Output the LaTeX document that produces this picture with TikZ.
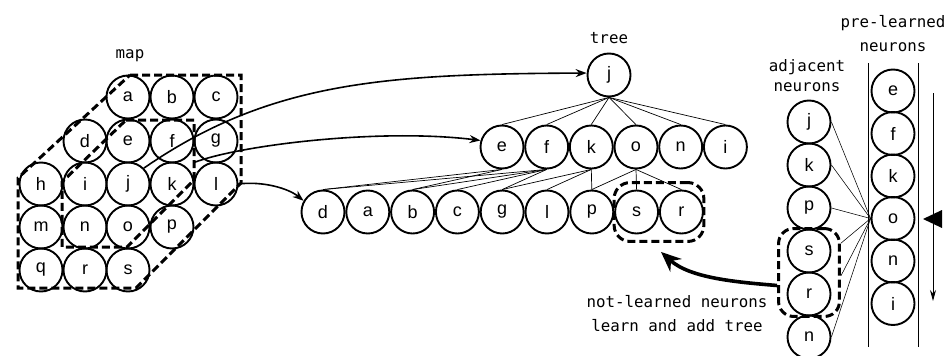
\documentclass[tikz,border=0pt]{standalone}
\usepackage{fontspec}
\setmainfont{Liberation Sans}
\newfontfamily\labelfont{DejaVu Sans Mono}
\usetikzlibrary{arrows.meta,fit,calc}

\begin{document}
\begin{tikzpicture}[x=1pt,y=-1pt,
  neuron/.style={circle,draw,line width=1.9pt,minimum size=43pt,inner sep=0pt,
                 font=\fontsize{18}{18}\selectfont},
  dashbox/.style={draw,line width=3pt,dash pattern=on 8pt off 4pt},
  tag/.style={font=\labelfont\fontsize{15.8}{#1}\selectfont,align=center,inner sep=0pt},
  tag/.default=24,
  treeline/.style={line width=0.7pt},
  adjline/.style={line width=0.55pt},
  maparrow/.style={line width=1.6pt,-{Stealth[length=11pt,width=8pt]}},
  bigarrow/.style={line width=3.6pt,-{Stealth[length=20pt,width=17pt]}},
  ]
\useasboundingbox (0,0) rectangle (946,356);

% ---------- the map of neurons ----------
\foreach \n/\x/\y in {a/128/97, b/172/97, c/216/97,
                      d/85/141, e/128/141, f/172/141, g/216/141,
                      h/41/184, i/85/184, j/128/184, k/172/184, l/216/184,
                      m/41/227, n/85/227, o/128/227, p/172/227,
                      q/41/270, r/85/270, s/128/270}
  \node[neuron] (m\n) at (\x,\y) {\n};

% neighbourhoods of j: two rings and one ring
\draw[dashbox] (130,75) -- (241,75) -- (241,183) -- (136,288) -- (18,288) -- (18,178) -- cycle;
\draw[dashbox] (126,120) -- (194,120) -- (194,180) -- (127,247) -- (62,247) -- (62,182) -- cycle;

\node[tag,anchor=base] (lmap) at (130,58) {map};

% ---------- the tree ----------
\node[tag,anchor=base] (ltree) at (609,43) {tree};
\node[neuron] (tj) at (609,75) {j};

\foreach \n/\x in {e/502, f/546.7, k/591.3, o/636, n/680.7, i/725.4}
  \node[neuron] (t2\n) at (\x,147) {\n};

\foreach \n/\x in {d/323, a/367.8, b/412.6, c/457.4, g/502.2, l/547, p/591.8, s/636.6, r/681.4}
  \node[neuron] (t3\n) at (\x,212) {\n};

\foreach \c in {e,f,k,o,n,i}
  \draw[treeline] (tj.south) -- (t2\c.north);

\foreach \p/\c in {e/d, f/d, e/b, f/b, f/c, f/g, k/g, k/l, k/p, o/p, o/s, o/r}
  \draw[treeline] (t2\p.south) -- (t3\c.north);

\node[dashbox,rounded corners=16pt,fit=(t3s)(t3r),inner xsep=0pt,inner ysep=7pt] (boxT) {};

% ---------- from the map into the tree ----------
\coordinate (corner) at ($(mf)!0.5!(ml)$);
\draw[maparrow] (mj.45) .. controls (270,81) and (386,74) .. (tj.175);
\draw[maparrow] (corner) .. controls (240,145) and (380,128) .. (t2e.163);
\draw[maparrow] (ml.east) .. controls (262,181) and (288,188) .. (t3d.150);

% ---------- pre-learned neurons ----------
\node[tag,anchor=north] (lpre) at (893,15) {pre-learned\\neurons};
\coordinate (railLt) at (868,63);
\coordinate (railLb) at (868,347);
\coordinate (railRt) at (918,63);
\coordinate (railRb) at (918,347);
\draw[line width=0.7pt] (railLt) -- (railLb);
\draw[line width=0.7pt] (railRt) -- (railRb);

\foreach \n/\y in {e/91, f/133.5, k/176, o/218.5, n/261, i/303.5}
  \node[neuron] (p\n) at (893,\y) {\n};

\coordinate (scanTop) at (933,93);
\coordinate (scanEnd) at (933,301);
\draw[line width=0.8pt,-{Stealth[length=11pt,width=6pt]}] (scanTop) -- (scanEnd);
\fill (942,210) -- (923,219) -- (942,228) -- cycle;

% ---------- adjacent neurons ----------
\node[tag=20,anchor=north] (ladj) at (807,59) {adjacent\\neurons};
\foreach \n/\y in {j/122, k/165, p/208, s/251, r/294, n/337}
  \node[neuron] (a\n) at (809,\y) {\n};

\node[dashbox,rounded corners=15pt,fit=(as)(ar),inner xsep=8pt,inner ysep=0pt] (boxA) {};

\foreach \n in {j,k,p,n}
  \draw[adjline] (po.west) -- (a\n.east);
\foreach \n in {s,r}
  \draw[adjline] (po.west) -- (intersection of po.west--a\n.east and boxA.north east--boxA.south east);

% ---------- not-learned neurons join the tree ----------
\coordinate (bigstart) at ([yshift=-13pt]boxA.west);
\coordinate (bigtip) at ($(boxT.south)+(2,9)$);
\draw[bigarrow] (bigstart) .. controls (735,282) and (690,278) .. (bigtip);

\node[tag,anchor=north] (lnot) at (677,295) {not-learned neurons\\learn and add tree};
\end{tikzpicture}
\end{document}
